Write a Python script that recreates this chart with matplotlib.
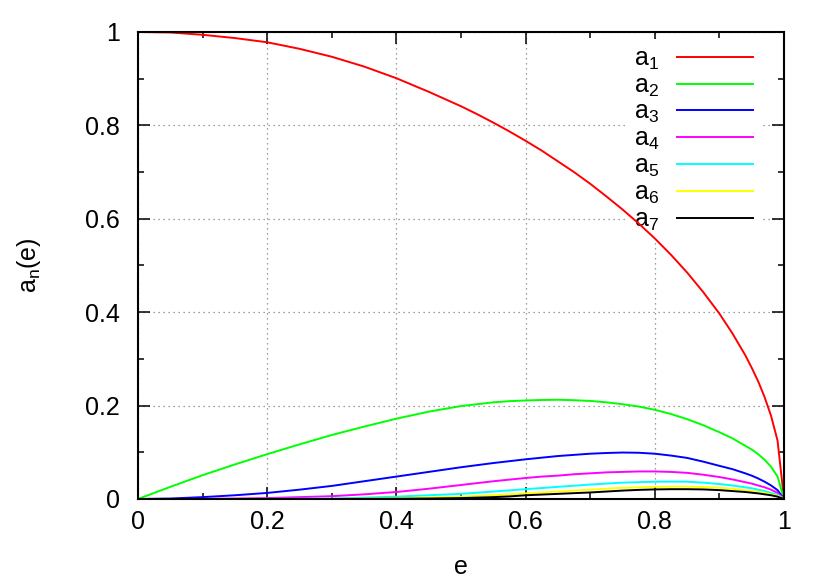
import matplotlib
matplotlib.use("Agg")
import matplotlib.pyplot as plt
from matplotlib.ticker import MultipleLocator, FuncFormatter

plt.rcParams['font.family'] = ['Liberation Sans', 'DejaVu Sans']
plt.rcParams['mathtext.fontset'] = 'custom'
plt.rcParams['mathtext.rm'] = 'Liberation Sans'
plt.rcParams['mathtext.it'] = 'Liberation Sans'

# eccentricity samples
e = [0.0, 0.05, 0.1, 0.15, 0.2, 0.25, 0.3, 0.35, 0.4, 0.45, 0.5,
     0.525, 0.55, 0.575, 0.6, 0.625, 0.65, 0.675, 0.7, 0.725, 0.75, 0.775, 0.8, 0.825, 0.85, 0.875, 0.9,
     0.92, 0.94, 0.95, 0.96, 0.97, 0.98, 0.99, 1.0]

a1 = [1.0, 0.999, 0.994, 0.987, 0.978, 0.964, 0.947, 0.926, 0.901, 0.872, 0.841,
      0.824, 0.806, 0.787, 0.767, 0.746, 0.723, 0.700, 0.675, 0.648, 0.620, 0.590, 0.558, 0.523, 0.485, 0.443, 0.397,
      0.355, 0.308, 0.281, 0.252, 0.218, 0.178, 0.125, 0.0]
a2 = [0.0, 0.026, 0.051, 0.074, 0.096, 0.117, 0.137, 0.155, 0.172, 0.187, 0.199,
      0.203, 0.207, 0.2095, 0.211, 0.212, 0.2125, 0.2115, 0.210, 0.207, 0.203, 0.198, 0.191, 0.182, 0.171, 0.158, 0.143,
      0.130, 0.114, 0.106, 0.096, 0.084, 0.069, 0.048, 0.0]
a3 = [0.0, 0.001, 0.004, 0.008, 0.013, 0.020, 0.028, 0.038, 0.048, 0.058, 0.068,
      0.0725, 0.077, 0.081, 0.085, 0.0885, 0.092, 0.0945, 0.097, 0.0985, 0.0995, 0.099, 0.097, 0.093, 0.088, 0.080, 0.071,
      0.064, 0.055, 0.050, 0.044, 0.037, 0.029, 0.019, 0.0]
a4 = [0.0, 0.0, 0.0003, 0.001, 0.002, 0.004, 0.006, 0.010, 0.015, 0.022, 0.030,
      0.034, 0.038, 0.0415, 0.045, 0.048, 0.050, 0.053, 0.055, 0.057, 0.058, 0.059, 0.059, 0.058, 0.056, 0.052, 0.047,
      0.042, 0.036, 0.033, 0.029, 0.025, 0.020, 0.013, 0.0]
a5 = [0.0, 0.0, 0.0, 0.0, 0.0003, 0.0006, 0.001, 0.003, 0.005, 0.008, 0.011,
      0.0135, 0.016, 0.0185, 0.021, 0.0235, 0.026, 0.0285, 0.031, 0.033, 0.035, 0.036, 0.037, 0.0372, 0.037, 0.035, 0.032,
      0.029, 0.025, 0.023, 0.020, 0.017, 0.013, 0.009, 0.0]
a6 = [0.0, 0.0, 0.0, 0.0, 0.0, 0.0, 0.0002, 0.0007, 0.0015, 0.003, 0.005,
      0.0065, 0.008, 0.010, 0.012, 0.014, 0.016, 0.018, 0.020, 0.022, 0.024, 0.025, 0.026, 0.0265, 0.0265, 0.0255, 0.024,
      0.022, 0.019, 0.017, 0.015, 0.013, 0.010, 0.007, 0.0]
a7 = [0.0, 0.0, 0.0, 0.0, 0.0, 0.0, 0.0, 0.0002, 0.0005, 0.001, 0.002,
      0.003, 0.004, 0.0055, 0.008, 0.0095, 0.011, 0.0125, 0.014, 0.016, 0.018, 0.0195, 0.0205, 0.021, 0.021, 0.0205, 0.019,
      0.017, 0.015, 0.0135, 0.012, 0.010, 0.008, 0.005, 0.0]

series = [a1, a2, a3, a4, a5, a6, a7]
labels = [r'$\mathregular{a_%d}$' % i for i in range(1, 8)]
colors = ['#ff0000', '#00ff00', '#0000ff', '#ff00ff', '#00ffff', '#ffff00', '#000000']

FS = 18

fig = plt.figure(figsize=(8.3, 5.81), dpi=100)
ax = fig.add_axes([138 / 830, 82 / 581, 646 / 830, 467 / 581])

for ys, lab, c in zip(series, labels, colors):
    ax.plot(e, ys, color=c, lw=1.4, label=lab, zorder=2)

ax.set_xlim(0, 1)
ax.set_ylim(0, 1)
ax.xaxis.set_major_locator(MultipleLocator(0.2))
ax.xaxis.set_minor_locator(MultipleLocator(0.1))
ax.yaxis.set_major_locator(MultipleLocator(0.2))
ax.yaxis.set_minor_locator(MultipleLocator(0.1))
fmt = FuncFormatter(lambda v, p: '%g' % round(v, 3))
ax.xaxis.set_major_formatter(fmt)
ax.yaxis.set_major_formatter(fmt)

ax.tick_params(which='major', direction='in', top=True, right=True, length=8.6, width=1.1,
               labelsize=FS, colors='black')
ax.tick_params(which='minor', direction='in', top=True, right=True, length=4.3, width=1.1)
ax.tick_params(axis='y', which='major', pad=13)
ax.tick_params(axis='x', which='major', pad=8)
for s in ax.spines.values():
    s.set_linewidth(1.5)

ax.set_axisbelow(True)
ax.grid(True, which='major', linestyle=(0, (1, 3)), color='#808080', lw=0.9)

ax.set_xlabel('e', fontsize=FS, labelpad=15)
ax.set_ylabel(r'$\mathregular{a_n(e)}$', fontsize=FS, labelpad=30)

leg = ax.legend(loc='upper right', bbox_to_anchor=(0.964, 0.985), frameon=True,
                facecolor='white', edgecolor='none', framealpha=1.0, fancybox=False,
                markerfirst=False, fontsize=FS, handlelength=3.05, handletextpad=0.72,
                labelspacing=0.065, borderpad=0.3, borderaxespad=0.0)
leg.set_zorder(1.5)
for t in leg.get_texts():
    t.set_ha('right')

fig.savefig('out.png', dpi=100)
